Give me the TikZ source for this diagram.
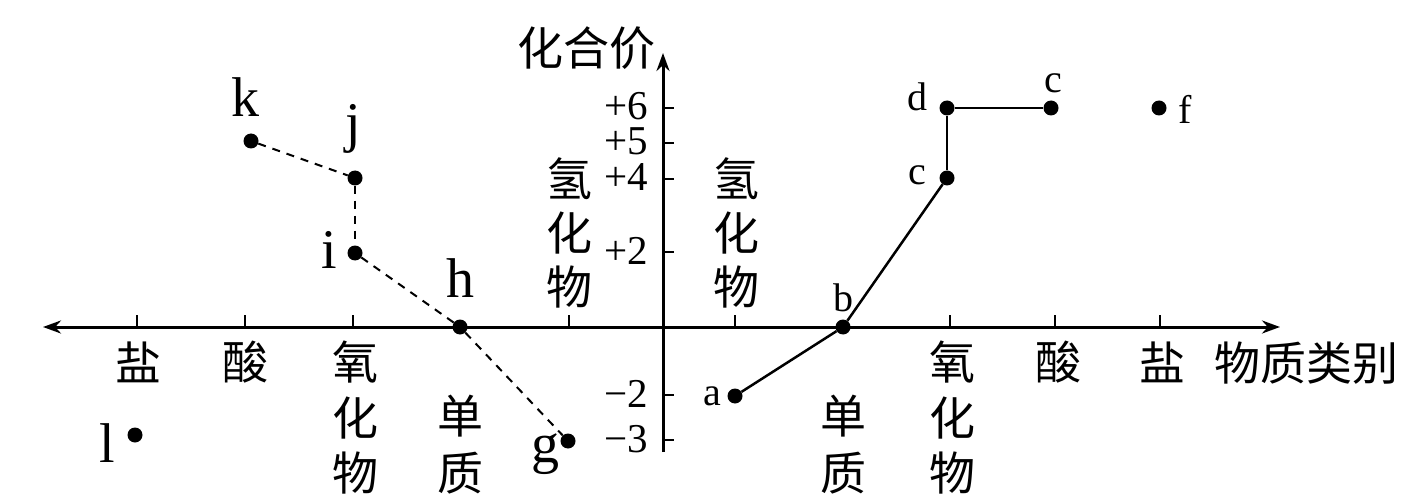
\documentclass[tikz,border=0pt]{standalone}
\usepackage{fontspec}
\setmainfont{Liberation Serif}
\newfontfamily\cjk{Noto Sans CJK SC}
\usetikzlibrary{arrows.meta}
\begin{document}
\begin{tikzpicture}[x=1pt,y=-1pt,
  axis/.style={line width=3pt},
  axtick/.style={line width=2.5pt},
  dot/.style={circle,fill=black,inner sep=0pt,minimum size=15pt},
  solidlink/.style={line width=2.5pt},
  dashlink/.style={line width=2pt,dash pattern=on 8pt off 7pt},
  zh/.style={font=\fontsize{46}{46}\selectfont\cjk,inner sep=0pt},
  num/.style={font=\fontsize{41}{41}\selectfont,inner sep=0pt,anchor=base east,text height=0.68em,text depth=0pt},
  rl/.style={font=\fontsize{40}{40}\selectfont,inner sep=0pt,anchor=base},
  ll/.style={font=\fontsize{56}{56}\selectfont,inner sep=0pt,anchor=base},
  tipend/.style={-{Stealth[length=18pt,width=13pt]}},
  tipboth/.style={{Stealth[length=18pt,width=13pt]}-{Stealth[length=18pt,width=13pt]}}
]
\useasboundingbox (0,0) rectangle (1413,497);
% axes
\coordinate (xl) at (43,327);
\coordinate (xr) at (1280,327);
\coordinate (yb) at (663,452);
\coordinate (yt) at (663,53);
\draw[axis,tipboth] (xl) -- (xr);
\draw[axis,tipend] (yb) -- (yt);
\foreach \x in {137,245,353,569,735,950,1055,1160}
  \draw[axtick] (\x,327) -- (\x,315);
\foreach \y in {108,143,179,252,395,440}
  \draw[axtick] (663,\y) -- (674,\y);
% axis titles
\node[zh] (ytitle) at (586,48) {化合价};
\node[zh] (xtitle) at (1306,363) {物质类别};
% valence labels
\node[num] (v6) at (648,120) {+6};
\node[num] (v5) at (648,155) {+5};
\node[num] (v4) at (648,191) {+4};
\node[num] (v2) at (648,264) {+2};
\node[num] (vm2) at (648,407) {−2};
\node[num] (vm3) at (648,452) {−3};
% category labels, above axis
\node[zh] (lh1) at (569,179) {氢};
\node[zh] (lh2) at (569,233) {化};
\node[zh] (lh3) at (569,287) {物};
\node[zh] (rh1) at (736,179) {氢};
\node[zh] (rh2) at (736,233) {化};
\node[zh] (rh3) at (736,287) {物};
% category labels, below axis (left)
\node[zh] (lsalt) at (138,362) {盐};
\node[zh] (lacid) at (245,362) {酸};
\node[zh] (lox1) at (355,362) {氧};
\node[zh] (lox2) at (355,418) {化};
\node[zh] (lox3) at (355,473) {物};
\node[zh] (lel1) at (460,416) {单};
\node[zh] (lel2) at (460,473) {质};
% category labels, below axis (right)
\node[zh] (rel1) at (843,416) {单};
\node[zh] (rel2) at (843,473) {质};
\node[zh] (rox1) at (952,362) {氧};
\node[zh] (rox2) at (952,418) {化};
\node[zh] (rox3) at (952,473) {物};
\node[zh] (racid) at (1058,362) {酸};
\node[zh] (rsalt) at (1162,362) {盐};
% points
\node[dot] (a) at (735,396) {};
\node[dot] (b) at (843,327) {};
\node[dot] (c) at (947,178) {};
\node[dot] (d) at (947,108) {};
\node[dot] (e) at (1051,108) {};
\node[dot] (f) at (1159,108) {};
\node[dot] (g) at (568,441) {};
\node[dot] (h) at (460,327) {};
\node[dot] (i) at (355,253) {};
\node[dot] (j) at (355,178) {};
\node[dot] (k) at (251,141) {};
\node[dot] (l) at (135,435) {};
% point labels
\node[rl] (ta) at (712,405) {a};
\node[rl] (tb) at (843,311) {b};
\node[rl] (tc) at (917,185) {c};
\node[rl] (td) at (917,111) {d};
\node[rl] (te) at (1053,93) {c};
\node[rl] (tf) at (1185,124) {f};
\node[ll] (tg) at (545,462) {g};
\node[ll] (th) at (460,297) {h};
\node[ll] (ti) at (329,268) {i};
\node[ll] (tj) at (353,142) {j};
\node[ll] (tk) at (245,117) {k};
\node[ll] (tl) at (107,462) {l};
% connectors
\draw[solidlink] (a) -- (b);
\draw[solidlink] (b) -- (c);
\draw[solidlink] (c) -- (d);
\draw[solidlink] (d) -- (e);
\draw[dashlink] (k) -- (j);
\draw[dashlink] (j) -- (i);
\draw[dashlink] (i) -- (h);
\draw[dashlink] (h) -- (g);
\end{tikzpicture}
\end{document}
